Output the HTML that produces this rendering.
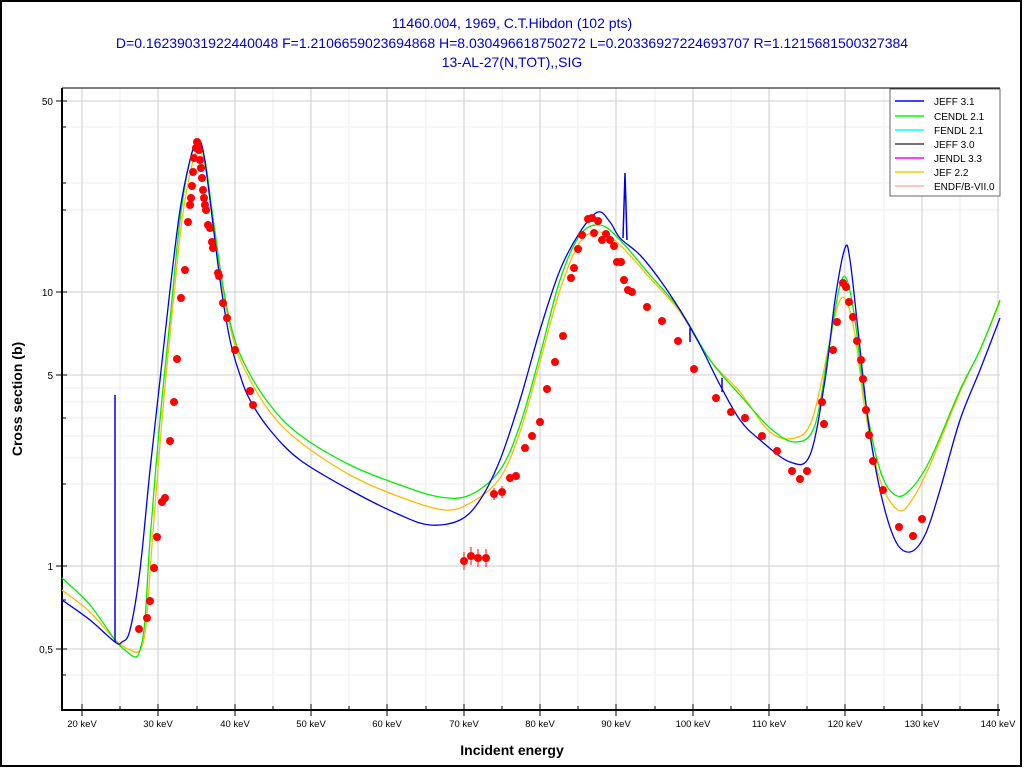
<!DOCTYPE html>
<html><head><style>
body{margin:0;background:#fff;}
svg{display:block;font-family:"Liberation Sans",Arial,sans-serif;}
</style></head><body>
<svg id="s" width="1024" height="768" viewBox="0 0 1024 768" xmlns="http://www.w3.org/2000/svg">
<rect x="0" y="0" width="1024" height="768" fill="#fff"/>
<rect x="1" y="1" width="1020" height="765" fill="none" stroke="#000" stroke-width="2"/>
<g fill="#0000cc" font-size="14" text-anchor="middle">
<text x="512" y="28">11460.004, 1969, C.T.Hibdon (102 pts)</text>
<text x="512" y="48">D=0.16239031922440048 F=1.2106659023694868 H=8.030496618750272 L=0.20336927224693707 R=1.1215681500327384</text>
<text x="512" y="67">13-AL-27(N,TOT),,SIG</text>
</g>
<g stroke="#eeeeee" stroke-width="1">
<path d="M120,88V710M197,88V710M273,88V710M349,88V710M426,88V710M502,88V710M578,88V710M655,88V710M731,88V710M807,88V710M884,88V710M960,88V710"/>
<path d="M62,566H1000M62,484H1000M62,458H1000M62,436H1000M62,418H1000M62,402H1000M62,388H1000M62,210H1000M62,183H1000M62,127H1000M62,620H1000M62,600H1000M62,583H1000M62,675H1000"/>
</g>
<g stroke="#cccccc" stroke-width="1">
<path d="M82,88V710M158,88V710M235,88V710M311,88V710M387,88V710M464,88V710M540,88V710M616,88V710M693,88V710M769,88V710M845,88V710M922,88V710M998,88V710"/>
<path d="M62,101H1000M62,292H1000M62,375H1000M62,566H1000M62,649H1000"/>
</g>
<path d="M62,88V710H1000" fill="none" stroke="#000" stroke-width="2"/>
<path d="M62,88H1000" stroke="#000" stroke-width="1"/>
<g stroke="#000" stroke-width="1">
<path d="M82,704V716M158,704V716M235,704V716M311,704V716M387,704V716M464,704V716M540,704V716M616,704V716M693,704V716M769,704V716M845,704V716M922,704V716M998,704V716"/>
<path d="M120,706V710M197,706V710M273,706V710M349,706V710M426,706V710M502,706V710M578,706V710M655,706V710M731,706V710M807,706V710M884,706V710M960,706V710"/>
<path d="M56,101H67M56,292H67M56,375H67M56,566H67M56,649H67M62,127H66M62,210H66M62,183H66M62,484H66M62,418H66M62,600H66M62,675H66"/>
</g>
<g font-size="9.5" text-anchor="middle" fill="#000">
<text x="82" y="727">20 keV</text><text x="158" y="727">30 keV</text><text x="235" y="727">40 keV</text>
<text x="311" y="727">50 keV</text><text x="387" y="727">60 keV</text><text x="464" y="727">70 keV</text>
<text x="540" y="727">80 keV</text><text x="616" y="727">90 keV</text><text x="693" y="727">100 keV</text>
<text x="769" y="727">110 keV</text><text x="845" y="727">120 keV</text><text x="922" y="727">130 keV</text>
<text x="998" y="727">140 keV</text>
</g>
<g font-size="10" text-anchor="end" fill="#000">
<text x="53" y="105">50</text><text x="53" y="296">10</text><text x="53" y="379">5</text>
<text x="53" y="570">1</text><text x="53" y="653">0,5</text>
</g>
<text x="512" y="755" font-size="14" font-weight="bold" text-anchor="middle">Incident energy</text>
<text transform="translate(22,399) rotate(-90)" font-size="14" font-weight="bold" text-anchor="middle">Cross section (b)</text>
<g fill="none" stroke-width="1.3">
<polyline class="sm" stroke="#ffbb00" points="62,590 90,612 115,640 130,650 140,650 146,625 152,545 162,420 172,315 182,220 192,165 198,150 205,165 212,215 222,285 232,335 245,370 270,412 300,442 350,475 400,497 445,510 472,502 500,478 520,432 540,362 560,290 580,242 600,232 620,245 650,278 680,312 710,360 740,392 770,432 795,438 812,420 828,350 838,305 846,300 855,335 865,410 880,480 898,510 912,500 930,465 960,392 980,350 1000,302"/>
<polyline class="sm" stroke="#00ee00" points="62,578 90,605 115,640 125,650 135,657 140,650 145,620 150,540 160,420 170,320 180,220 190,160 198,145 205,160 212,210 222,280 232,330 245,365 270,405 300,435 350,465 400,485 440,497 470,495 500,470 520,425 540,355 560,280 580,235 600,225 620,240 650,275 680,310 710,360 740,395 770,428 795,442 815,425 830,340 840,285 847,280 855,320 865,400 880,470 895,495 910,490 930,460 960,390 980,350 1000,300"/>
<polyline class="sm" stroke="#0000ee" points="62,600 90,620 115,642 122,642 130,630 140,570 150,470 160,380 170,290 180,210 190,160 197,140 203,150 210,200 220,280 230,340 240,375 250,400 270,430 300,460 350,490 400,515 430,525 460,520 480,500 500,460 520,400 540,330 560,270 580,232 598,212 610,222 620,238 640,255 660,280 680,310 700,345 720,385 740,420 760,440 790,462 810,455 825,380 835,300 845,248 850,260 858,330 868,420 880,490 895,540 910,552 925,535 940,490 960,420 980,370 1000,318"/>
<path d="M115,395V642M625,173L623,238M625,173L627,240M690,328V342M722,378V392" stroke="#0000ee" stroke-width="1.5"/>
</g>
<g fill="#ff0000">
<circle cx="139" cy="629" r="4"/><circle cx="147" cy="618" r="4"/><circle cx="150" cy="601" r="4"/><circle cx="154" cy="568" r="4"/><circle cx="157" cy="537" r="4"/><circle cx="162" cy="502" r="4"/><circle cx="165" cy="498" r="4"/><circle cx="170" cy="441" r="4"/><circle cx="174" cy="402" r="4"/><circle cx="177" cy="359" r="4"/><circle cx="181" cy="298" r="4"/><circle cx="185" cy="270" r="4"/><circle cx="188" cy="222" r="4"/><circle cx="190" cy="205" r="4"/><circle cx="191" cy="198" r="4"/><circle cx="192" cy="186" r="4"/><circle cx="193" cy="172" r="4"/><circle cx="194" cy="158" r="4"/><circle cx="196" cy="148" r="4"/><circle cx="197" cy="142" r="4"/><circle cx="198" cy="146" r="4"/><circle cx="199" cy="150" r="4"/><circle cx="200" cy="160" r="4"/><circle cx="201" cy="168" r="4"/><circle cx="202" cy="178" r="4"/><circle cx="203" cy="190" r="4"/><circle cx="204" cy="198" r="4"/><circle cx="205" cy="205" r="4"/><circle cx="206" cy="210" r="4"/><circle cx="208" cy="225" r="4"/><circle cx="210" cy="228" r="4"/><circle cx="212" cy="242" r="4"/><circle cx="213" cy="248" r="4"/><circle cx="218" cy="273" r="4"/><circle cx="219" cy="276" r="4"/><circle cx="223" cy="303" r="4"/><circle cx="227" cy="318" r="4"/><circle cx="235" cy="350" r="4"/><circle cx="250" cy="391" r="4"/><circle cx="253" cy="405" r="4"/>
<circle cx="464" cy="561" r="4"/><circle cx="471" cy="556" r="4"/><circle cx="478" cy="558" r="4"/><circle cx="486" cy="558" r="4"/><circle cx="494" cy="494" r="4"/><circle cx="502" cy="492" r="4"/><circle cx="510" cy="478" r="4"/><circle cx="516" cy="476" r="4"/><circle cx="525" cy="448" r="4"/><circle cx="532" cy="436" r="4"/><circle cx="540" cy="422" r="4"/><circle cx="547" cy="389" r="4"/><circle cx="555" cy="362" r="4"/><circle cx="563" cy="336" r="4"/><circle cx="571" cy="278" r="4"/><circle cx="574" cy="268" r="4"/><circle cx="578" cy="249" r="4"/><circle cx="582" cy="235" r="4"/><circle cx="588" cy="219" r="4"/><circle cx="592" cy="218" r="4"/><circle cx="594" cy="233" r="4"/><circle cx="598" cy="221" r="4"/><circle cx="602" cy="240" r="4"/><circle cx="606" cy="234" r="4"/><circle cx="610" cy="240" r="4"/><circle cx="614" cy="246" r="4"/><circle cx="617" cy="262" r="4"/><circle cx="621" cy="262" r="4"/><circle cx="624" cy="280" r="4"/><circle cx="628" cy="290" r="4"/><circle cx="632" cy="292" r="4"/><circle cx="647" cy="307" r="4"/><circle cx="662" cy="321" r="4"/><circle cx="678" cy="341" r="4"/><circle cx="694" cy="369" r="4"/><circle cx="716" cy="398" r="4"/><circle cx="731" cy="412" r="4"/><circle cx="745" cy="418" r="4"/><circle cx="762" cy="436" r="4"/><circle cx="777" cy="451" r="4"/><circle cx="792" cy="471" r="4"/><circle cx="800" cy="479" r="4"/><circle cx="807" cy="471" r="4"/><circle cx="822" cy="402" r="4"/><circle cx="824" cy="424" r="4"/><circle cx="833" cy="350" r="4"/><circle cx="837" cy="322" r="4"/><circle cx="843" cy="283" r="4"/><circle cx="846" cy="287" r="4"/><circle cx="849" cy="302" r="4"/><circle cx="853" cy="317" r="4"/><circle cx="857" cy="341" r="4"/><circle cx="861" cy="360" r="4"/><circle cx="863" cy="379" r="4"/><circle cx="866" cy="410" r="4"/><circle cx="869" cy="435" r="4"/><circle cx="873" cy="461" r="4"/><circle cx="883" cy="490" r="4"/><circle cx="899" cy="527" r="4"/><circle cx="913" cy="536" r="4"/><circle cx="922" cy="519" r="4"/>
</g>
<g stroke="#ff0000" stroke-width="1">
<path d="M464,552V570M471,547V565M478,549V567M486,549V567M494,488V500M502,486V498"/>
</g>
<rect x="890" y="89" width="110" height="107" fill="#fff" stroke="#666" stroke-width="1"/>
<g stroke-width="1.5">
<line x1="895" y1="101" x2="924" y2="101" stroke="#0000ff"/>
<line x1="895" y1="116" x2="924" y2="116" stroke="#00ff00"/>
<line x1="895" y1="130" x2="924" y2="130" stroke="#00ffff"/>
<line x1="895" y1="144" x2="924" y2="144" stroke="#444"/>
<line x1="895" y1="158" x2="924" y2="158" stroke="#ff00ff"/>
<line x1="895" y1="172" x2="924" y2="172" stroke="#ffcc00"/>
<line x1="895" y1="186" x2="924" y2="186" stroke="#ffb0b0"/>
</g>
<g font-size="10" fill="#000">
<text x="934" y="105">JEFF 3.1</text><text x="934" y="120">CENDL 2.1</text><text x="934" y="134">FENDL 2.1</text>
<text x="934" y="148">JEFF 3.0</text><text x="934" y="162">JENDL 3.3</text><text x="934" y="176">JEF 2.2</text>
<text x="934" y="190">ENDF/B-VII.0</text>
</g>
</svg>
<script>
document.querySelectorAll('polyline.sm').forEach(function(pl){
  var p=pl.getAttribute('points').trim().split(/\s+/).map(function(s){return s.split(',').map(Number);});
  var d='M'+p[0][0]+','+p[0][1];
  for(var i=0;i<p.length-1;i++){
    var p0=p[i-1]||p[i],p1=p[i],p2=p[i+1],p3=p[i+2]||p2;
    var c1x=p1[0]+(p2[0]-p0[0])/6,c1y=p1[1]+(p2[1]-p0[1])/6;
    var c2x=p2[0]-(p3[0]-p1[0])/6,c2y=p2[1]-(p3[1]-p1[1])/6;
    d+='C'+c1x.toFixed(1)+','+c1y.toFixed(1)+' '+c2x.toFixed(1)+','+c2y.toFixed(1)+' '+p2[0]+','+p2[1];
  }
  var path=document.createElementNS('http://www.w3.org/2000/svg','path');
  path.setAttribute('d',d);path.setAttribute('stroke',pl.getAttribute('stroke'));
  pl.parentNode.replaceChild(path,pl);
});
</script>
</body></html>
